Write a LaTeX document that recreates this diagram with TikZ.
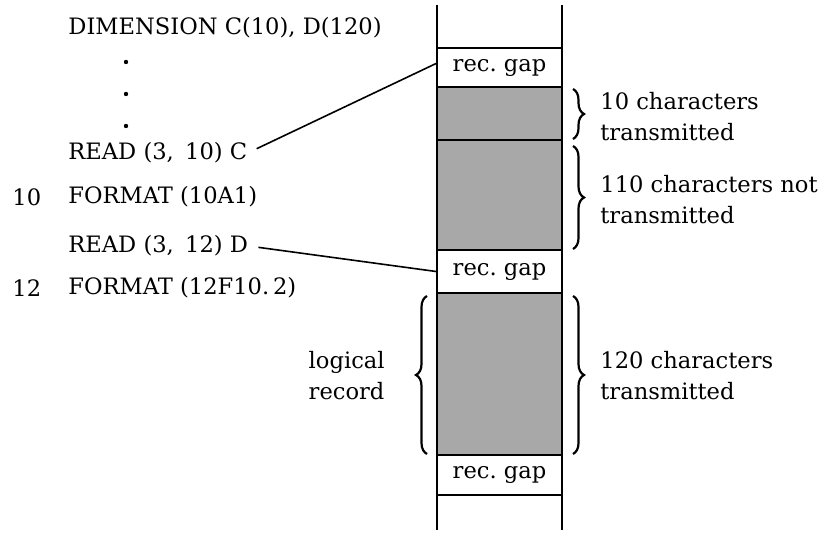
\documentclass[tikz,border=0pt]{standalone}
\usepackage{fontspec}
\setmainfont{DejaVu Serif}
\usepackage{tikz}
\usetikzlibrary{positioning, decorations.pathreplacing}
\newcommand{\codefont}{\fontsize{11.3}{15.5}\selectfont}
\tikzset{
  code/.style   ={anchor=west, inner sep=0pt, font=\codefont},
  lbl/.style    ={anchor=west, align=left, inner sep=0pt, font=\codefont},
  gapbox/.style ={draw, line width=0.9pt, minimum width=62.5pt, inner sep=0pt,
                  fill=white, font=\codefont},
  recbox/.style ={draw, line width=0.9pt, minimum width=62.5pt, inner sep=0pt,
                  fill=black!34},
  dotmark/.style={circle, fill, inner sep=0pt, minimum size=2.2pt},
  link/.style   ={line width=0.8pt, shorten <=5pt},
  curly/.style  ={decorate, decoration={brace, amplitude=5.5pt}, line width=1.1pt},
}

\begin{document}
\begin{tikzpicture}[x=0.5pt, y=-0.5pt]
  \useasboundingbox (0,0) rectangle (833,533);

  % program text
  \node[code] (dim)   at (68,28)  {DIMENSION C(10), D(120)};
  \node[dotmark] (dotA) at (126,62)  {};
  \node[dotmark] (dotB) at (126,94)  {};
  \node[dotmark] (dotC) at (126,126) {};
  \node[code] (readC) at (68,153) {READ (3,\enspace 10) C};
  \node[code] (numA)  at (12,197) {10};
  \node[code] (fmtA)  at (68,197) {FORMAT (10A1)};
  \node[code] (readD) at (68,246) {READ (3,\enspace 12) D};
  \node[code] (numB)  at (12,288) {12};
  \node[code] (fmtB)  at (68,288) {FORMAT (12F10.\,2)};

  % tape
  \coordinate (tl) at (437,5);
  \coordinate (bl) at (437,530);
  \coordinate (tr) at (562,5);
  \coordinate (br) at (562,530);
  \draw[line width=1pt] (tl) -- (bl);
  \draw[line width=1pt] (tr) -- (br);
  \node[gapbox, minimum height=19.5pt] (gapA) at (499.5,67.5)  {rec.\ gap};
  \node[recbox, minimum height=26.5pt] (recA) at (499.5,113.5) {};
  \node[recbox, minimum height=55pt]   (recB) at (499.5,195)   {};
  \node[gapbox, minimum height=21.5pt] (gapB) at (499.5,271.5) {rec.\ gap};
  \node[recbox, minimum height=81pt]   (recC) at (499.5,374)   {};
  \node[gapbox, minimum height=20pt]   (gapC) at (499.5,475)   {rec.\ gap};

  % links
  \draw[link] (readC.east) -- ([yshift=2pt]gapA.west);
  \draw[link] (readD.east) -- (gapB.west);

  % braces
  \draw[curly] (573,89)  -- (573,139);
  \draw[curly] (573,146) -- (573,249);
  \draw[curly] (573,296) -- (573,454);
  \draw[curly] (427,454) -- (427,296);

  \node[lbl] (txtA) at (600,117) {10 characters\\transmitted};
  \node[lbl] (txtB) at (600,200) {110 characters not\\transmitted};
  \node[lbl] (txtC) at (600,376) {120 characters\\transmitted};
  \node[lbl, anchor=east] (txtL) at (385,376) {logical\\record};
\end{tikzpicture}
\end{document}
